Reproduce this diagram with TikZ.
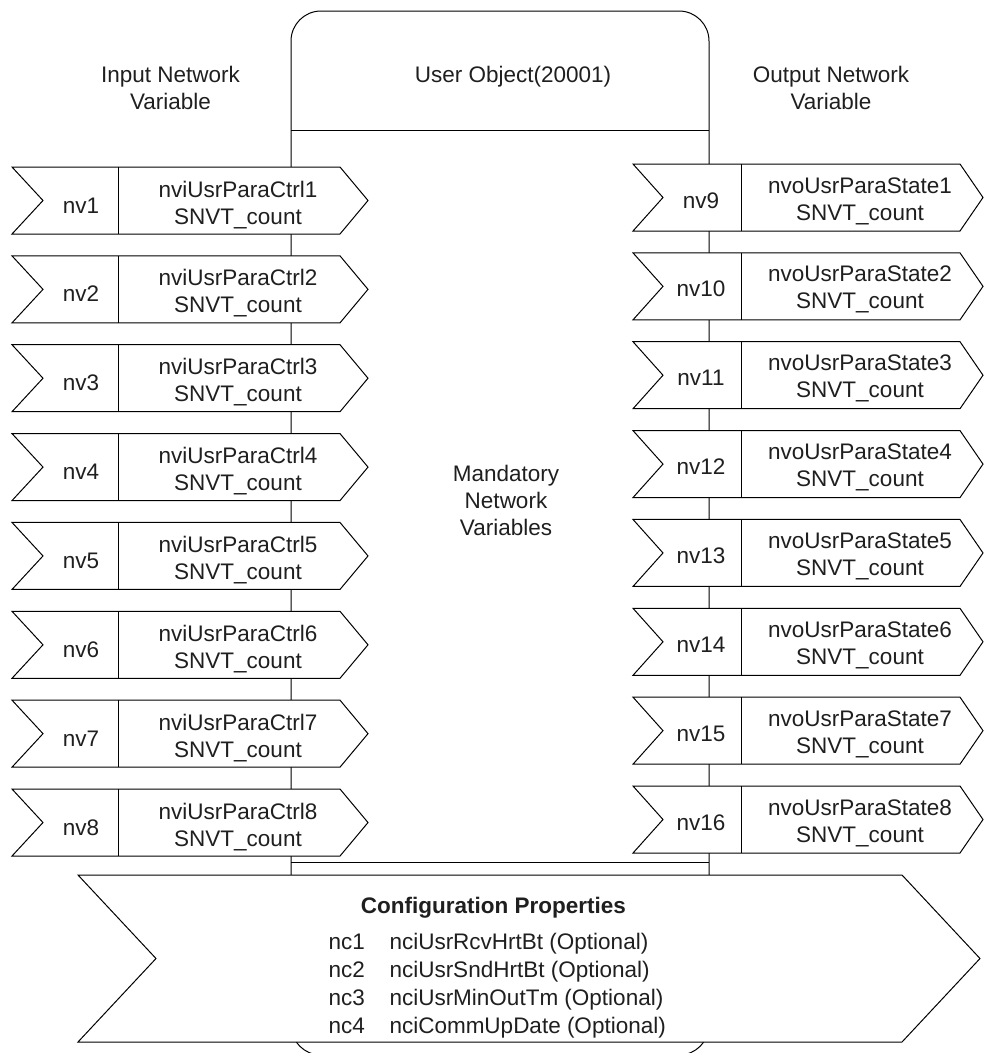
\documentclass[tikz,border=0pt]{standalone}
\usepackage{fontspec}
\setmainfont{Liberation Sans}
\begin{document}
\begin{tikzpicture}[x=1pt,y=-1pt,line width=1pt,
  lbl/.style={font=\fontsize{22.5}{27}\selectfont,inner sep=0pt,anchor=base,text=black!88},
  shp/.style={draw=black,fill=white,line join=miter},
  objbox/.style={draw=black,rounded corners=30pt,minimum width=418pt,minimum height=1044pt,inner sep=0pt}]
\useasboundingbox (0,0) rectangle (984,1053);
% central object box
\node[objbox] (obj) at (500,533) {};
\draw (291,130) -- (709,130);
\draw (291,862) -- (709,862);
% header texts (anchor = baseline of last line)
\node[lbl,align=center] (inhead) at (170.5,109) {Input Network\\Variable};
\node[lbl] (objhead) at (513,82) {User Object(20001)};
\node[lbl,align=center] (outhead) at (831,109) {Output Network\\Variable};
\node[lbl,align=center] (mand) at (506,535) {Mandatory\\Network\\Variables};
% input network variables
\foreach \i in {1,...,8}{
  \pgfmathsetmacro\t{167+88.86*(\i-1)}
  \draw[shp] (12,\t) -- (340,\t) -- (368,\t+33.5) -- (340,\t+67) -- (12,\t+67) -- (43,\t+33.5) -- cycle;
  \draw (118,\t) -- (118,\t+67);
  \node[lbl] (nv\i) at (81,\t+46) {nv\i};
  \node[lbl,align=center] (in\i) at (238,\t+57) {nviUsrParaCtrl\i\\SNVT\_count};
}
% output network variables
\foreach \i in {1,...,8}{
  \pgfmathsetmacro\t{164+88.86*(\i-1)}
  \pgfmathtruncatemacro\n{\i+8}
  \draw[shp] (633,\t) -- (960,\t) -- (983,\t+33.5) -- (960,\t+67) -- (633,\t+67) -- (663,\t+33.5) -- cycle;
  \draw (741,\t) -- (741,\t+67);
  \node[lbl] (nv\n) at (701,\t+44) {nv\n};
  \node[lbl,align=center] (out\i) at (860,\t+56) {nvoUsrParaState\i\\SNVT\_count};
}
% configuration properties
\draw[shp] (78,875) -- (902,875) -- (980,958.5) -- (902,1042) -- (78,1042) -- (156,958.5) -- cycle;
\node[lbl,font=\fontsize{22.5}{27}\selectfont\bfseries] (cfg) at (493.5,913) {Configuration Properties};
\node[lbl,anchor=base west] (nc1) at (328,949) {nc1};
\node[lbl,anchor=base west] (nc2) at (328,977) {nc2};
\node[lbl,anchor=base west] (nc3) at (328,1005) {nc3};
\node[lbl,anchor=base west] (nc4) at (328,1033) {nc4};
\node[lbl,anchor=base west] (nci1) at (389,949) {nciUsrRcvHrtBt (Optional)};
\node[lbl,anchor=base west] (nci2) at (389,977) {nciUsrSndHrtBt (Optional)};
\node[lbl,anchor=base west] (nci3) at (389,1005) {nciUsrMinOutTm (Optional)};
\node[lbl,anchor=base west] (nci4) at (389,1033) {nciCommUpDate (Optional)};
\end{tikzpicture}
\end{document}
